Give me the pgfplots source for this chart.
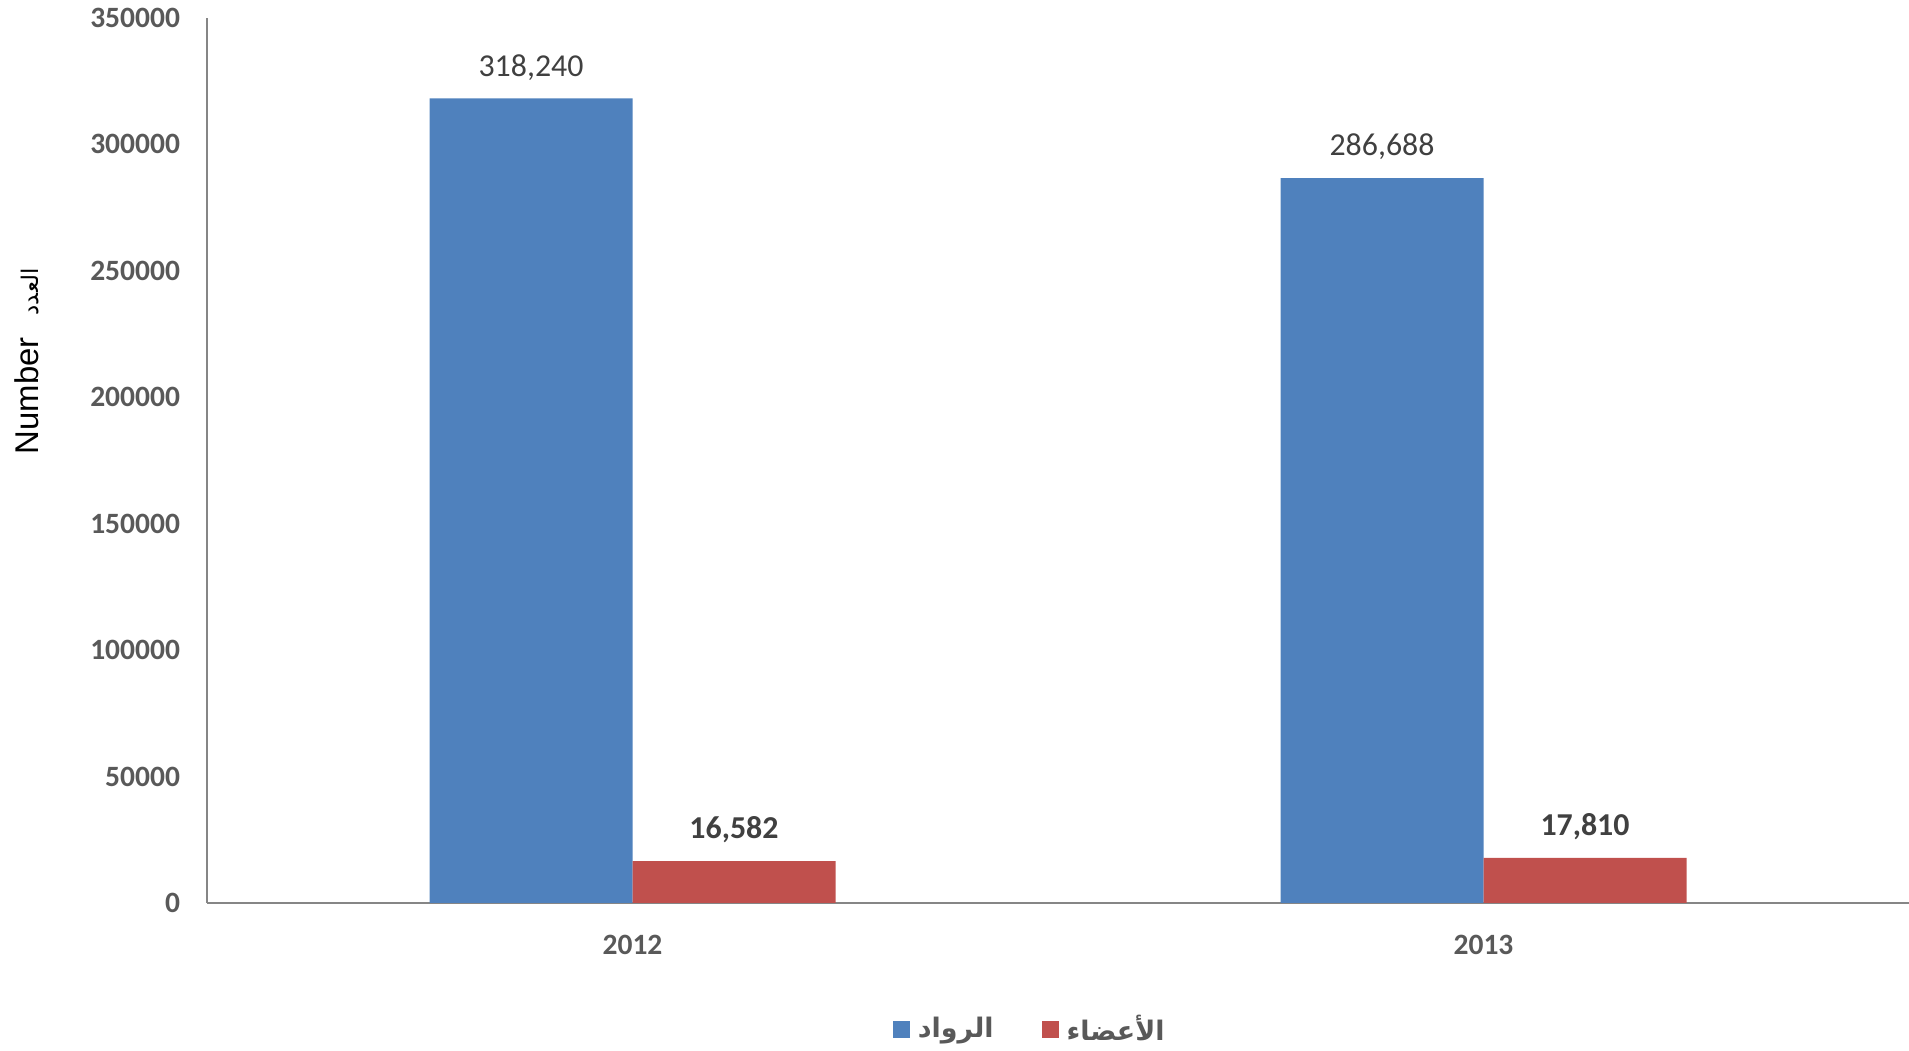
\documentclass[border=0pt]{standalone}
\usepackage{fontspec}
\usepackage{pgfplots}
\pgfplotsset{compat=1.18}
\setmainfont{Carlito}
\newfontfamily\arialfont{Liberation Sans}
\newfontfamily\arabicfont[Script=Arabic]{DejaVu Sans}
\TeXXeTstate=1
\definecolor{barblue}{HTML}{4F81BD}
\definecolor{barred}{HTML}{C0504D}
\definecolor{ticktext}{HTML}{595959}
\definecolor{labeltext}{HTML}{404040}
\definecolor{axisgray}{HTML}{868686}

\begin{document}
\begin{tikzpicture}
\begin{axis}[
    scale only axis,
    width=851bp, height=442.5bp,
    ybar, bar width=101.5bp,
    xmin=-0.5, xmax=1.5,
    ymin=0, ymax=350000,
    xtick={0,1}, xticklabels={2012,2013},
    ytick distance=50000,
    scaled y ticks=false,
    major tick length=0pt,
    axis x line*=bottom, axis y line*=left,
    axis line style={axisgray, line width=0.75bp},
    /pgf/number format/assume math mode=true,
    yticklabel={\pgfmathprintnumber[fixed,1000 sep={}]{\tick}},
    tick label style={font=\fontsize{14.8}{16}\selectfont\bfseries, text=ticktext},
    yticklabel style={xshift=-10bp},
    xticklabel style={yshift=-12.5bp},
    ylabel={{\arialfont\fontsize{16.5}{18}\selectfont Number}\hspace{11bp}{\arabicfont\fontsize{11.5}{13}\selectfont\beginR العدد\endR}},
    every axis y label/.style={at={(axis description cs:-0.1058,0.612)}, rotate=90, anchor=center},
    nodes near coords={\pgfmathprintnumber[fixed,precision=0,1000 sep={,}]{\pgfplotspointmeta}},
    every node near coord/.append style={yshift=5.5bp, text=labeltext},
    legend style={draw=none, at={(axis description cs:0.484,-0.1424)}, anchor=center,
        legend columns=2, font=\arabicfont\bfseries\fontsize{13.5}{15}\selectfont, text=ticktext,
        /tikz/every odd column/.append style={column sep=2bp},
        /tikz/every even column/.append style={column sep=22bp}},
]
\addplot[fill=barblue, draw=none, bar shift=-50.75bp,
    every node near coord/.append style={font=\fontsize{16}{18}\selectfont},
    legend image code/.code={\fill[barblue] (0bp,-4.25bp) rectangle (8.5bp,4.25bp);}]
    coordinates {(0,318240) (1,286688)};
\addlegendentry{\beginR الرواد\endR}
\addplot[fill=barred, draw=none, bar shift=50.75bp,
    every node near coord/.append style={font=\fontsize{16}{18}\selectfont\bfseries},
    legend image code/.code={\fill[barred] (0bp,-4.25bp) rectangle (8.5bp,4.25bp);}]
    coordinates {(0,16582) (1,17810)};
\addlegendentry{\beginR الأعضاء\endR}
\end{axis}
\pgfresetboundingbox
\path ([shift={(-103.5bp,-74bp)}]current axis.south west) rectangle ([shift={(0bp,9bp)}]current axis.north east);
\end{tikzpicture}
\end{document}
